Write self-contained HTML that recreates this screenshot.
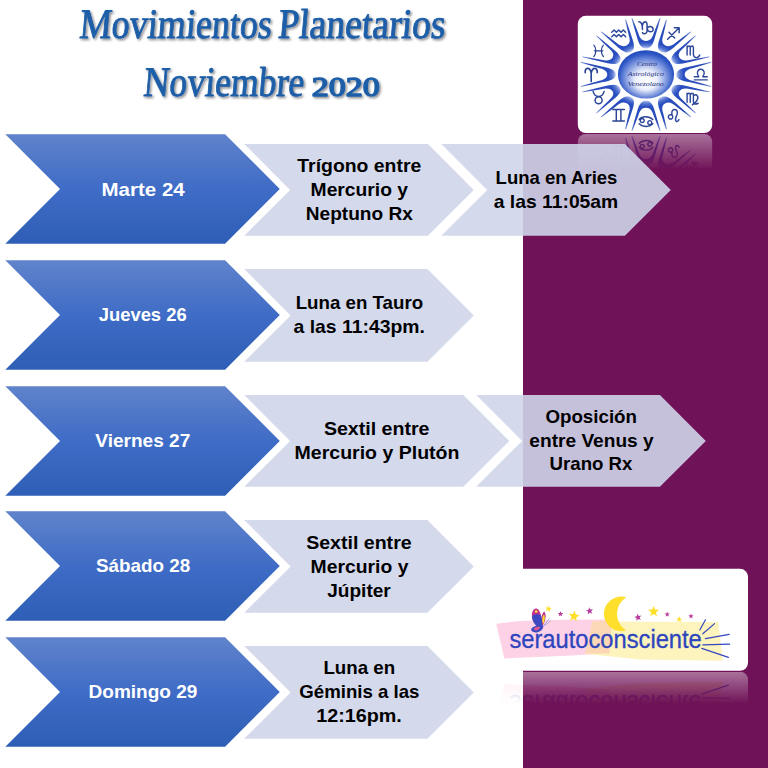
<!DOCTYPE html>
<html lang="es"><head><meta charset="utf-8"><title>Movimientos Planetarios Noviembre 2020</title>
<style>
html,body{margin:0;padding:0;background:#fff;}
body{width:768px;height:768px;overflow:hidden;font-family:"Liberation Sans",sans-serif;}
svg{display:block}
.t{font-family:"Liberation Sans",sans-serif;font-weight:bold;font-size:19.0px;text-anchor:middle}
.d{fill:#fff}
.k{fill:#000}
.ttl{font-family:"Liberation Serif",serif;font-size:42px;text-anchor:middle;fill:#1f5ea8;stroke:#1f5ea8;stroke-width:0.9px;stroke-linejoin:round}
</style></head><body>
<svg width="768" height="768" viewBox="0 0 768 768">
<defs>
<linearGradient id="gb" x1="0" y1="0" x2="0" y2="1">
<stop offset="0" stop-color="#6083cb"/><stop offset="0.5" stop-color="#3f6cc6"/><stop offset="1" stop-color="#2e5eb6"/>
</linearGradient>
<filter id="ts" x="-5%" y="-20%" width="110%" height="150%"><feDropShadow dx="1.5" dy="1.6" stdDeviation="0.9" flood-color="#000" flood-opacity="0.45"/></filter>

<radialGradient id="ug" gradientUnits="userSpaceOnUse" cx="0" cy="0" r="58">
<stop offset="0.44" stop-color="#d3dcf5"/><stop offset="0.5" stop-color="#5c7bd3"/><stop offset="0.56" stop-color="#2a4fc0"/><stop offset="0.85" stop-color="#2a4bb8"/><stop offset="1" stop-color="#7f95da"/>
</radialGradient>
<radialGradient id="cg" gradientUnits="userSpaceOnUse" cx="0" cy="2" r="27" fx="0" fy="8">
<stop offset="0" stop-color="#ffffff"/><stop offset="0.36" stop-color="#e9eefb"/><stop offset="0.66" stop-color="#7d97de"/><stop offset="0.88" stop-color="#2c55c6"/><stop offset="1" stop-color="#2048b8"/>
</radialGradient>
<linearGradient id="rf1" gradientUnits="userSpaceOnUse" x1="0" y1="133" x2="0" y2="170">
<stop offset="0" stop-color="#fff" stop-opacity="0.42"/><stop offset="1" stop-color="#fff" stop-opacity="0"/>
</linearGradient>
<filter id="bl" x="-5%" y="-5%" width="110%" height="110%"><feGaussianBlur stdDeviation="0.55"/></filter>
<mask id="mk1" maskUnits="userSpaceOnUse" x="570" y="133.7" width="150" height="45"><rect x="570" y="133.7" width="150" height="45" fill="url(#rf1)"/></mask>
<linearGradient id="rf2" gradientUnits="userSpaceOnUse" x1="0" y1="670.8" x2="0" y2="704">
<stop offset="0" stop-color="#fff" stop-opacity="0.42"/><stop offset="1" stop-color="#fff" stop-opacity="0"/>
</linearGradient>
<mask id="mk2" maskUnits="userSpaceOnUse" x="490" y="671.6" width="265" height="40"><rect x="490" y="671.6" width="265" height="40" fill="url(#rf2)"/></mask>
</defs>
<rect x="0" y="0" width="768" height="768" fill="#fff"/>
<rect x="523" y="0" width="245" height="768" fill="#6f1257"/>
<g id="lg1">
<rect x="577.8" y="15.8" width="134.4" height="117.2" rx="8" ry="8" fill="#fff"/>
<g transform="translate(646.0,74.4) scale(1.160,1)">
<path d="M-12.6,-56.5 L-7.7,-37 C-6.5,-32 -4.7,-26.0 0,-26.0 C4.7,-26.0 6.5,-32 7.7,-37 L12.6,-56.5 L11.6,-56 L6.5,-40.8 C5.6,-37 3.8,-33.4 0,-33.4 C-3.8,-33.4 -5.6,-37 -6.5,-40.8 L-11.6,-56 Z" fill="url(#ug)" transform="rotate(0)"/>
<path d="M-12.6,-56.5 L-7.7,-37 C-6.5,-32 -4.7,-26.0 0,-26.0 C4.7,-26.0 6.5,-32 7.7,-37 L12.6,-56.5 L11.6,-56 L6.5,-40.8 C5.6,-37 3.8,-33.4 0,-33.4 C-3.8,-33.4 -5.6,-37 -6.5,-40.8 L-11.6,-56 Z" fill="url(#ug)" transform="rotate(30)"/>
<path d="M-12.6,-56.5 L-7.7,-37 C-6.5,-32 -4.7,-26.0 0,-26.0 C4.7,-26.0 6.5,-32 7.7,-37 L12.6,-56.5 L11.6,-56 L6.5,-40.8 C5.6,-37 3.8,-33.4 0,-33.4 C-3.8,-33.4 -5.6,-37 -6.5,-40.8 L-11.6,-56 Z" fill="url(#ug)" transform="rotate(60)"/>
<path d="M-12.6,-56.5 L-7.7,-37 C-6.5,-32 -4.7,-26.0 0,-26.0 C4.7,-26.0 6.5,-32 7.7,-37 L12.6,-56.5 L11.6,-56 L6.5,-40.8 C5.6,-37 3.8,-33.4 0,-33.4 C-3.8,-33.4 -5.6,-37 -6.5,-40.8 L-11.6,-56 Z" fill="url(#ug)" transform="rotate(90)"/>
<path d="M-12.6,-56.5 L-7.7,-37 C-6.5,-32 -4.7,-26.0 0,-26.0 C4.7,-26.0 6.5,-32 7.7,-37 L12.6,-56.5 L11.6,-56 L6.5,-40.8 C5.6,-37 3.8,-33.4 0,-33.4 C-3.8,-33.4 -5.6,-37 -6.5,-40.8 L-11.6,-56 Z" fill="url(#ug)" transform="rotate(120)"/>
<path d="M-12.6,-56.5 L-7.7,-37 C-6.5,-32 -4.7,-26.0 0,-26.0 C4.7,-26.0 6.5,-32 7.7,-37 L12.6,-56.5 L11.6,-56 L6.5,-40.8 C5.6,-37 3.8,-33.4 0,-33.4 C-3.8,-33.4 -5.6,-37 -6.5,-40.8 L-11.6,-56 Z" fill="url(#ug)" transform="rotate(150)"/>
<path d="M-12.6,-56.5 L-7.7,-37 C-6.5,-32 -4.7,-26.0 0,-26.0 C4.7,-26.0 6.5,-32 7.7,-37 L12.6,-56.5 L11.6,-56 L6.5,-40.8 C5.6,-37 3.8,-33.4 0,-33.4 C-3.8,-33.4 -5.6,-37 -6.5,-40.8 L-11.6,-56 Z" fill="url(#ug)" transform="rotate(180)"/>
<path d="M-12.6,-56.5 L-7.7,-37 C-6.5,-32 -4.7,-26.0 0,-26.0 C4.7,-26.0 6.5,-32 7.7,-37 L12.6,-56.5 L11.6,-56 L6.5,-40.8 C5.6,-37 3.8,-33.4 0,-33.4 C-3.8,-33.4 -5.6,-37 -6.5,-40.8 L-11.6,-56 Z" fill="url(#ug)" transform="rotate(210)"/>
<path d="M-12.6,-56.5 L-7.7,-37 C-6.5,-32 -4.7,-26.0 0,-26.0 C4.7,-26.0 6.5,-32 7.7,-37 L12.6,-56.5 L11.6,-56 L6.5,-40.8 C5.6,-37 3.8,-33.4 0,-33.4 C-3.8,-33.4 -5.6,-37 -6.5,-40.8 L-11.6,-56 Z" fill="url(#ug)" transform="rotate(240)"/>
<path d="M-12.6,-56.5 L-7.7,-37 C-6.5,-32 -4.7,-26.0 0,-26.0 C4.7,-26.0 6.5,-32 7.7,-37 L12.6,-56.5 L11.6,-56 L6.5,-40.8 C5.6,-37 3.8,-33.4 0,-33.4 C-3.8,-33.4 -5.6,-37 -6.5,-40.8 L-11.6,-56 Z" fill="url(#ug)" transform="rotate(270)"/>
<path d="M-12.6,-56.5 L-7.7,-37 C-6.5,-32 -4.7,-26.0 0,-26.0 C4.7,-26.0 6.5,-32 7.7,-37 L12.6,-56.5 L11.6,-56 L6.5,-40.8 C5.6,-37 3.8,-33.4 0,-33.4 C-3.8,-33.4 -5.6,-37 -6.5,-40.8 L-11.6,-56 Z" fill="url(#ug)" transform="rotate(300)"/>
<path d="M-12.6,-56.5 L-7.7,-37 C-6.5,-32 -4.7,-26.0 0,-26.0 C4.7,-26.0 6.5,-32 7.7,-37 L12.6,-56.5 L11.6,-56 L6.5,-40.8 C5.6,-37 3.8,-33.4 0,-33.4 C-3.8,-33.4 -5.6,-37 -6.5,-40.8 L-11.6,-56 Z" fill="url(#ug)" transform="rotate(330)"/>
<circle cx="0" cy="0" r="24.2" fill="url(#cg)"/>
</g>
<g font-family="'Liberation Serif',serif" font-style="italic" font-size="6.6" fill="#1d2b7c" text-anchor="middle">
<text x="646.9" y="66.0" textLength="20" lengthAdjust="spacingAndGlyphs">Centro</text>
<text x="645.8" y="76.4" textLength="36" lengthAdjust="spacingAndGlyphs">Astrológico</text>
<text x="645.8" y="86.4" textLength="36" lengthAdjust="spacingAndGlyphs">Venezolano</text>
</g>
<g fill="none" stroke="#2b4598" stroke-width="1.35" stroke-linecap="round" stroke-linejoin="round">
<path transform="translate(700.8,74.4) scale(1.00)" d="M-6.5,5.5 L6.5,5.5 M-6.5,2.3 L-2,2.3 C-5,-1 -3,-5.2 0,-5.2 C3,-5.2 5,-1 2,2.3 L6.5,2.3"/>
<path transform="translate(693.4,50.8) scale(1.05)" d="M-6,-4.5 L-6,4 M-6,-3 C-5,-5 -3,-5 -3,-3 L-3,4 M-3,-3 C-2,-5 0,-5 0,-3 L0,3.5 C0,5 1.5,6.5 3,6.5 C4.5,6.5 5.5,5.5 6,4"/>
<path transform="translate(673.4,33.5) scale(1.05)" d="M-5.5,5.5 L5.5,-5.5 M0.8,-5.5 L5.5,-5.5 L5.5,-0.8 M-4.2,-1.2 L1.2,4.2"/>
<path transform="translate(646.0,27.2) scale(1.10)" d="M-6.5,-5 C-4.5,-5 -3.2,-2 -3.2,2 M-3.2,-2 C-2.2,-6 1,-6 1,-2 L1,3 C1,6.2 -2,6.6 -3.2,5 M1,1.5 C2,-2 6.5,-1 6.5,2 C6.5,5 2,5 1,1.5"/>
<path transform="translate(618.6,33.5) scale(1.05)" d="M-6.5,-1.2 L-4.3,-3.4 L-2.1,-1.2 L0.1,-3.4 L2.3,-1.2 L4.5,-3.4 L6.7,-1.2 M-6.5,3.2 L-4.3,1 L-2.1,3.2 L0.1,1 L2.3,3.2 L4.5,1 L6.7,3.2"/>
<path transform="translate(598.6,50.8) scale(0.95)" d="M-5,-6 C-2.2,-3 -2.2,3 -5,6 M5,-6 C2.2,-3 2.2,3 5,6 M-4.5,0 L4.5,0"/>
<path transform="translate(591.2,74.4) scale(1.20)" d="M-5,-1.5 C-5.5,-6 -1,-6.5 0,-1 L0,6 M0,-1 C1,-6.5 5.5,-6 5,-1.5"/>
<path transform="translate(598.6,98.0) scale(1.10)" d="M-5,-6 C-4,-2.2 -2,-1.4 0,-1.4 C2,-1.4 4,-2.2 5,-6 M3.2,2 A3.2,3.2 0 1 1 -3.2,2 A3.2,3.2 0 1 1 3.2,2"/>
<path transform="translate(618.6,115.3) scale(1.05)" d="M-5.5,-5.5 L5.5,-5.5 M-5.5,5.5 L5.5,5.5 M-2.2,-5.5 L-2.2,5.5 M2.2,-5.5 L2.2,5.5"/>
<path transform="translate(646.0,121.6) scale(1.05)" d="M6.5,-2 C3,-5.5 -4,-5.5 -6.5,-2 M-1.7,-1 A1.9,1.9 0 1 1 -5.5,-1 A1.9,1.9 0 1 1 -1.7,-1 M-6.5,2 C-3,5.5 4,5.5 6.5,2 M5.5,1 A1.9,1.9 0 1 1 1.7,1 A1.9,1.9 0 1 1 5.5,1"/>
<path transform="translate(673.4,115.3) scale(1.05)" d="M-0.6,1.5 A2.1,2.1 0 1 1 -4.8,1.5 A2.1,2.1 0 1 1 -0.6,1.5 M-1,0.5 C-4,-7 5.5,-7.5 3.5,-1 C2.5,2 1,4 2.5,5.5 C3.5,6.3 5.2,5.5 5.2,4"/>
<path transform="translate(693.4,98.0) scale(1.05)" d="M-6,-4.5 L-6,4 M-6,-3 C-5,-5 -3,-5 -3,-3 L-3,4 M-3,-3 C-2,-5 0,-5 0,-3 L0,3.5 C0,6 2,6.3 4.5,5 M0,-2 C3,-5 5.5,-1 3.5,2 C2.5,4 0.5,5 -1,6.5"/>
</g>
</g>
<g mask="url(#mk1)"><use href="#lg1" transform="translate(0,266.9) scale(1,-1)" filter="url(#bl)"/></g>
<g id="lg2">
<rect x="497" y="568.8" width="251" height="102" rx="8" ry="8" fill="#fff"/>
<polygon points="496.2,623.7 518,621.2 540,620.1 612,619.6 609.5,653.4 560,656 504.4,658.4" fill="#fdd2e6"/>
<polygon points="592.4,621.6 718.3,622 722.8,660.8 640,659.5 585.4,653.8" fill="#fdf3bd"/>
<polygon points="592.4,621.6 611.9,620.4 609.5,653.6 585.4,653.8" fill="#fbd7b6"/>
<path d="M626.3,597.3 A17.3,17.3 0 1 0 626.2,630.4 A19.5,19.5 0 0 1 626.3,597.3 Z" fill="#fddf2c"/>
<polygon points="549.1,605.5 549.6,607.9 552.0,608.4 549.8,609.6 550.0,612.0 548.2,610.3 546.0,611.3 547.0,609.1 545.4,607.3 547.9,607.6" fill="#fddf2c"/>
<polygon points="574.8,610.6 575.7,614.5 579.7,615.3 576.2,617.4 576.7,621.4 573.7,618.7 570.0,620.5 571.6,616.7 568.8,613.8 572.9,614.1" fill="#fddf2c"/>
<polygon points="560.5,611.1 561.2,613.0 563.3,613.1 561.7,614.4 562.2,616.3 560.5,615.2 558.8,616.3 559.3,614.4 557.7,613.1 559.8,613.0" fill="#b8379a"/>
<polygon points="589.1,607.2 590.3,609.6 593.0,609.3 591.2,611.3 592.2,613.7 589.8,612.6 587.8,614.4 588.2,611.7 585.9,610.3 588.5,609.9" fill="#b8379a"/>
<polygon points="637.3,613.7 638.7,616.0 641.4,615.6 639.6,617.6 640.7,620.0 638.3,619.0 636.3,620.8 636.6,618.1 634.2,616.9 636.9,616.3" fill="#b8379a"/>
<polygon points="653.6,605.8 655.0,609.6 659.1,609.8 655.9,612.4 657.0,616.3 653.6,614.0 650.2,616.3 651.3,612.4 648.1,609.8 652.2,609.6" fill="#fddf2c"/>
<polygon points="667.2,611.6 667.9,613.4 669.9,613.5 668.3,614.8 668.8,616.7 667.2,615.6 665.6,616.7 666.1,614.8 664.5,613.5 666.5,613.4" fill="#b8379a"/>
<polygon points="679.8,616.2 680.2,618.5 682.4,619.0 680.4,620.0 680.6,622.3 679.0,620.7 676.9,621.6 677.9,619.6 676.4,617.9 678.6,618.2" fill="#fddf2c"/>
<polygon points="691.0,613.5 691.7,615.3 693.6,615.4 692.1,616.6 692.6,618.4 691.0,617.3 689.4,618.4 689.9,616.6 688.4,615.4 690.3,615.3" fill="#b8379a"/>
<g>
<path d="M542,628.6 C536,627 531.4,620 531.9,614.5 C532.2,610.6 534.4,608.5 536.3,608.6 C538.6,608.8 540.3,612 541.3,616.5 C542.3,621 542.7,625 542,628.6 Z" fill="#c0348f"/>
<circle cx="536.2" cy="611.5" r="1.35" fill="#fddf2c"/>
<path d="M542.4,626 C540.8,620 541.4,614 544.1,611.6 C546.5,613.5 546.2,620.5 542.4,626 Z" fill="#c0348f"/>
<path d="M542.9,624.2 C541.8,620 542.3,616.2 543.9,614.4 C545.3,616.2 545.1,620.6 542.9,624.2 Z" fill="#fddf2c"/>
<path d="M542.1,628.9 C536,627.6 532,621.5 532.1,616.2 C534.5,613.6 538.6,613.6 540.9,615.6 C542.1,620 542.7,625 542.1,628.9 Z" fill="#3c49c0"/>
<path d="M543.6,625.8 C541,624.7 534.5,625 531.4,628.6 C530.4,631.2 533.5,633 537,632.4 C540.6,631.8 543.1,629.5 543.6,625.8 Z" fill="#3c49c0"/>
<path d="M540.1,627.3 C538,626.3 535,627 533.6,629.1 C534.5,631.1 538.6,631 540.1,627.3 Z" fill="#e0558f"/>
<path d="M543.8,625.4 C546,623 548,620.5 549.6,618.2 M544.2,625.8 C546.5,624.4 548.8,622.6 550.6,620.6" fill="none" stroke="#7f86dc" stroke-width="0.6"/>
</g>
<g stroke="#3347c0" stroke-width="1.2" stroke-linecap="round">
<line x1="699.8" y1="630.0" x2="705.5" y2="619.8"/>
<line x1="702.8" y1="633.8" x2="714.6" y2="623.6"/>
<line x1="705.5" y1="638.6" x2="729.2" y2="634.4"/>
<line x1="702.8" y1="644.8" x2="729.6" y2="644.2"/>
<line x1="701.8" y1="648.4" x2="728.4" y2="657.4"/>
</g>
<text x="605.6" y="647.5" font-family="'Liberation Sans',sans-serif" font-size="25" fill="#2d45bd" stroke="#2d45bd" stroke-width="0.3" text-anchor="middle" textLength="192.4" lengthAdjust="spacingAndGlyphs">serautoconsciente</text>
</g>
<g mask="url(#mk2)"><use href="#lg2" transform="translate(0,1342.5) scale(1,-1)" filter="url(#bl)"/></g>


<g filter="url(#ts)" class="ttl">
<text transform="translate(174.9,37.8) skewX(-5)" x="0" y="0" textLength="192.5" lengthAdjust="spacingAndGlyphs">Movimientos</text>
<text transform="translate(361.0,37.8) skewX(-5)" x="0" y="0" textLength="167.5" lengthAdjust="spacingAndGlyphs">Planetarios</text>
<text transform="translate(223.1,95.8) skewX(-5)" x="0" y="0" textLength="160.6" lengthAdjust="spacingAndGlyphs">Noviembre</text>
<text transform="translate(345.7,95.8)" x="0" y="0" font-size="28.2" stroke-width="1.5" textLength="68" lengthAdjust="spacingAndGlyphs">2020</text>
</g>
<polygon points="5.3,134.2 225.1,134.2 279.8,188.9 225.1,243.7 5.3,243.7 60.0,188.9" fill="url(#gb)" />
<text class="t d" x="143.1" y="196.0" textLength="83.2" lengthAdjust="spacingAndGlyphs">Marte 24</text>
<polygon points="244.2,144.0 427.9,144.0 473.8,189.9 427.9,235.8 244.2,235.8 290.1,189.9" fill="#cfd5ea" fill-opacity="0.9"/>
<text class="t k" x="359.3" y="171.7" textLength="123.9" lengthAdjust="spacingAndGlyphs">Trígono entre</text>
<text class="t k" x="359.3" y="195.8" textLength="97.4" lengthAdjust="spacingAndGlyphs">Mercurio y</text>
<text class="t k" x="359.3" y="219.8" textLength="107.0" lengthAdjust="spacingAndGlyphs">Neptuno Rx</text>
<polygon points="441.3,144.0 624.9,144.0 670.8,189.9 624.9,235.8 441.3,235.8 487.2,189.9" fill="#cfd5ea" fill-opacity="0.9"/>
<text class="t k" x="556.5" y="184.0" textLength="121.8" lengthAdjust="spacingAndGlyphs">Luna en Aries</text>
<text class="t k" x="556.0" y="207.9" textLength="124.5" lengthAdjust="spacingAndGlyphs">a las 11:05am</text>
<polygon points="5.3,260.2 225.1,260.2 279.8,314.9 225.1,369.7 5.3,369.7 60.0,314.9" fill="url(#gb)" />
<text class="t d" x="142.7" y="321.0" textLength="87.8" lengthAdjust="spacingAndGlyphs">Jueves 26</text>
<polygon points="244.2,269.0 427.4,269.0 473.8,315.4 427.4,361.8 244.2,361.8 290.6,315.4" fill="#cfd5ea" fill-opacity="0.9"/>
<text class="t k" x="359.4" y="309.0" textLength="127.4" lengthAdjust="spacingAndGlyphs">Luna en Tauro</text>
<text class="t k" x="359.2" y="333.0" textLength="131.2" lengthAdjust="spacingAndGlyphs">a las 11:43pm.</text>
<polygon points="5.3,386.2 225.1,386.2 279.8,440.9 225.1,495.7 5.3,495.7 60.0,440.9" fill="url(#gb)" />
<text class="t d" x="142.8" y="447.0" textLength="95.1" lengthAdjust="spacingAndGlyphs">Viernes 27</text>
<polygon points="244.2,395.0 463.3,395.0 509.2,440.9 463.3,486.8 244.2,486.8 290.1,440.9" fill="#cfd5ea" fill-opacity="0.9"/>
<text class="t k" x="376.7" y="434.7" textLength="105.6" lengthAdjust="spacingAndGlyphs">Sextil entre</text>
<text class="t k" x="377.0" y="458.8" textLength="164.8" lengthAdjust="spacingAndGlyphs">Mercurio y Plutón</text>
<polygon points="476.2,395.0 659.9,395.0 705.8,440.9 659.9,486.8 476.2,486.8 522.1,440.9" fill="#cfd5ea" fill-opacity="0.9"/>
<text class="t k" x="591.2" y="422.5" textLength="91.6" lengthAdjust="spacingAndGlyphs">Oposición</text>
<text class="t k" x="591.5" y="446.5" textLength="124.3" lengthAdjust="spacingAndGlyphs">entre Venus y</text>
<text class="t k" x="591.0" y="470.4" textLength="82.8" lengthAdjust="spacingAndGlyphs">Urano Rx</text>
<polygon points="5.3,511.2 225.1,511.2 279.8,566.0 225.1,620.7 5.3,620.7 60.0,566.0" fill="url(#gb)" />
<text class="t d" x="143.2" y="572.0" textLength="94.3" lengthAdjust="spacingAndGlyphs">Sábado 28</text>
<polygon points="244.2,520.0 427.4,520.0 473.8,566.4 427.4,612.8 244.2,612.8 290.6,566.4" fill="#cfd5ea" fill-opacity="0.9"/>
<text class="t k" x="358.9" y="548.6" textLength="105.5" lengthAdjust="spacingAndGlyphs">Sextil entre</text>
<text class="t k" x="359.5" y="572.6" textLength="97.8" lengthAdjust="spacingAndGlyphs">Mercurio y</text>
<text class="t k" x="359.0" y="596.5" textLength="63.5" lengthAdjust="spacingAndGlyphs">Júpiter</text>
<polygon points="5.3,637.2 225.1,637.2 279.8,692.0 225.1,746.7 5.3,746.7 60.0,692.0" fill="url(#gb)" />
<text class="t d" x="143.0" y="697.8" textLength="108.9" lengthAdjust="spacingAndGlyphs">Domingo 29</text>
<polygon points="244.2,646.0 427.4,646.0 473.8,692.4 427.4,738.8 244.2,738.8 290.6,692.4" fill="#cfd5ea" fill-opacity="0.9"/>
<text class="t k" x="359.3" y="674.0" textLength="71.8" lengthAdjust="spacingAndGlyphs">Luna en</text>
<text class="t k" x="359.4" y="697.8" textLength="120.1" lengthAdjust="spacingAndGlyphs">Géminis a las</text>
<text class="t k" x="359.0" y="721.8" textLength="85.7" lengthAdjust="spacingAndGlyphs">12:16pm.</text>
</svg></body></html>
